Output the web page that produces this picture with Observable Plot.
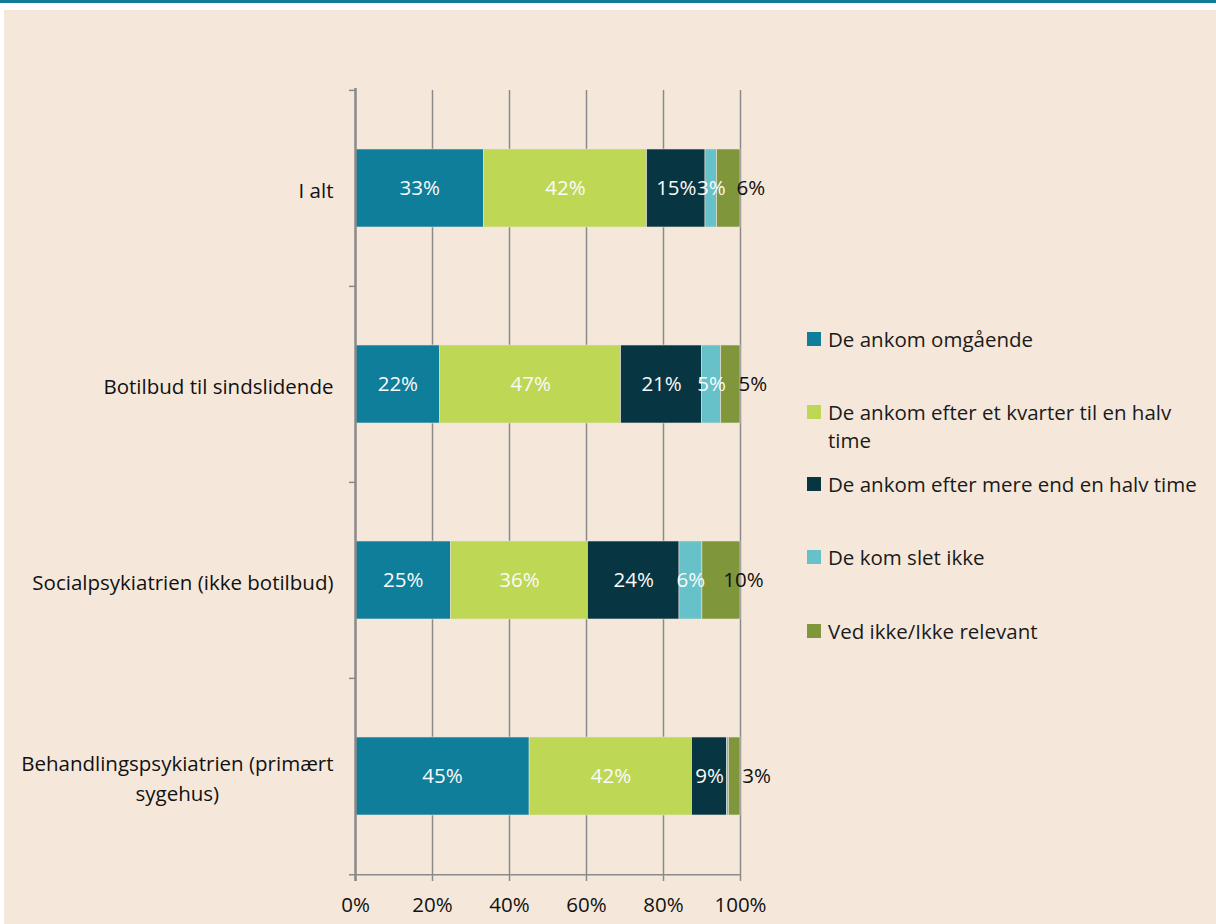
<!DOCTYPE html>
<html>
<head>
<meta charset="utf-8">
<script src="https://cdn.jsdelivr.net/npm/d3@7"></script>
<script src="https://cdn.jsdelivr.net/npm/@observablehq/plot@0.6"></script>
<style>
  body { margin: 0; background: #ffffff; font-family: "Open Sans", sans-serif; }
  #wrap { position: relative; width: 1216px; height: 924px; overflow: hidden; background: #ffffff; }
  #topline { position: absolute; left: 0; top: 0; width: 1216px; height: 3px; background: #0f7b97; }
  #panel { position: absolute; left: 4px; top: 10px; right: 0; bottom: 0; background: #f5e8db; }
  #chart { position: absolute; left: 0; top: 0; }
  #legend { position: absolute; left: 807px; top: 0; width: 405px; }
  .item { position: absolute; left: 0; display: flex; align-items: flex-start; }
  .sw { width: 14px; height: 14px; margin-top: 7px; margin-right: 7px; flex: none; }
  .lt { font-size: 20.5px; line-height: 28px; color: #1a1a1a; width: 376px; }
</style>
</head>
<body>
<div id="wrap">
  <div id="topline"></div>
  <div id="panel"></div>
  <div id="chart"></div>
  <div id="legend"></div>
</div>
<script>
const categories = [
  "I alt",
  "Botilbud til sindslidende",
  "Socialpsykiatrien (ikke botilbud)",
  "Behandlingspsykiatrien (primært sygehus)"
];
const series = [
  "De ankom omgående",
  "De ankom efter et kvarter til en halv time",
  "De ankom efter mere end en halv time",
  "De kom slet ikke",
  "Ved ikke/Ikke relevant"
];
const colors = ["#0f7e9a", "#bed755", "#073542", "#67c1c8", "#7f963b"];

const valuesIAlt = [33, 42, 15, 3, 6];
const valuesBotilbud = [22, 47, 21, 5, 5];
const valuesSocial = [25, 36, 24, 6, 10];
const valuesBehandling = [45, 42, 9, 0.5, 3];

const xTicks = [0, 0.2, 0.4, 0.6, 0.8, 1];
const gridTicks = [0.2, 0.4, 0.6, 0.8, 1];

const valueRows = [valuesIAlt, valuesBotilbud, valuesSocial, valuesBehandling];
const data = [];
categories.forEach((c, i) => {
  series.forEach((s, j) => data.push({category: c, series: s, value: valueRows[i][j]}));
});

const W = 1216, H = 924, mT = 90, mB = 49, mL = 355, mR = 476;
const step = (H - mT - mB) / categories.length;
const lastSeries = series[series.length - 1];
const grey = "#8a8a8a";
const FS = 20.5;

const stackOpts = {x: "value", y: "category", z: "series", offset: "normalize", order: series};

const chart = Plot.plot({
  width: W,
  height: H,
  marginTop: mT,
  marginBottom: mB,
  marginLeft: mL,
  marginRight: mR,
  style: {background: "transparent", fontFamily: "Open Sans, sans-serif", fontSize: FS + "px", overflow: "visible"},
  x: {domain: [0, 1]},
  y: {domain: categories, paddingInner: 0.6, paddingOuter: 0.3},
  color: {domain: series, range: colors},
  marks: [
    Plot.ruleX(gridTicks, {stroke: grey, strokeWidth: 1.5}),
    Plot.barX(data, Plot.stackX({...stackOpts, fill: "series", stroke: "#e6e0d8", strokeWidth: 0.6})),
    Plot.ruleX([0], {stroke: grey, strokeWidth: 2.5, insetTop: -2, insetBottom: -6}),
    Plot.ruleY([categories[categories.length - 1]], {dy: step / 2, x1: 0, x2: 1, insetLeft: -6, stroke: grey, strokeWidth: 1.5}),
    Plot.ruleY(categories, {dy: -step / 2, x1: 0, x2: 0, insetLeft: -6, stroke: grey, strokeWidth: 1.5}),
    Plot.text(data, Plot.stackX({
      ...stackOpts,
      text: d => (d.series !== lastSeries && d.value >= 1) ? d.value + "%" : null,
      fill: "#fafafa",
      fontSize: FS
    })),
    Plot.text(data, Plot.stackX({
      ...stackOpts,
      text: d => (d.series === lastSeries) ? d.value + "%" : null,
      fill: "#111",
      fontSize: FS,
      dx: 22
    })),
    Plot.axisX({
      ticks: xTicks,
      tickFormat: d => Math.round(d * 100) + "%",
      tickSize: 6,
      tickPadding: 16,
      stroke: grey,
      strokeWidth: 1.5,
      fill: "#111",
      fontSize: FS,
      label: null
    }),
    Plot.axisY({
      tickSize: 0,
      tickPadding: 22,
      fill: "#111",
      fontSize: FS,
      lineHeight: 1.46,
      label: null,
      tickFormat: d => d === "Behandlingspsykiatrien (primært sygehus)" ? "Behandlingspsykiatrien (primært\nsygehus)" : d
    })
  ]
});

document.getElementById("chart").appendChild(chart);

// center the lines of a wrapped category label within its block (block right edge stays at the anchor)
function centerWrapped() {
  chart.querySelectorAll("text").forEach(t => {
    const spans = Array.from(t.querySelectorAll("tspan"));
    if (spans.length > 1) {
      const w = Math.max(...spans.map(s => s.getComputedTextLength()));
      t.setAttribute("text-anchor", "middle");
      spans.forEach(s => {
        s.setAttribute("text-anchor", "middle");
        s.setAttribute("x", -w / 2);
      });
    }
  });
}
centerWrapped();
if (document.fonts && document.fonts.ready) document.fonts.ready.then(centerWrapped);

// legend
const legendTops = [325, 398, 470, 543, 617];
const legend = document.getElementById("legend");
series.forEach((s, i) => {
  const item = document.createElement("div");
  item.className = "item";
  item.style.top = legendTops[i] + "px";
  const sw = document.createElement("div");
  sw.className = "sw";
  sw.style.background = colors[i];
  const lt = document.createElement("div");
  lt.className = "lt";
  lt.textContent = s;
  item.appendChild(sw);
  item.appendChild(lt);
  legend.appendChild(item);
});
</script>
</body>
</html>
